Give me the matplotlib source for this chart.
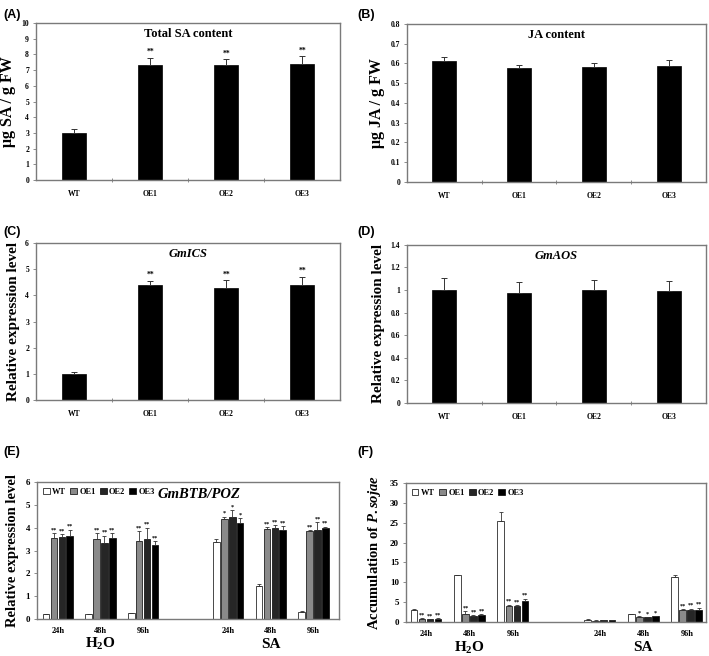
import numpy as np
import matplotlib
matplotlib.use("Agg")
from matplotlib import pyplot as plt
from matplotlib.ticker import FuncFormatter

plt.rcParams['font.family'] = 'Liberation Serif'
plt.rcParams['font.weight'] = 'bold'
plt.rcParams['mathtext.fontset'] = 'custom'
plt.rcParams['mathtext.rm'] = 'Liberation Serif:bold'
plt.rcParams['mathtext.bf'] = 'Liberation Serif:bold'
plt.rcParams['mathtext.it'] = 'Liberation Serif:bold:italic'

# ---- data ----
lines = ['WT', 'OE1', 'OE2', 'OE3']

sa_mean = [3.0, 7.35, 7.35, 7.4]
sa_err = [0.25, 0.45, 0.35, 0.5]
sa_sig = ['', '**', '**', '**']

ja_mean = [0.61, 0.578, 0.583, 0.587]
ja_err = [0.02, 0.015, 0.02, 0.03]

ics_mean = [1.0, 4.38, 4.3, 4.38]
ics_err = [0.08, 0.18, 0.27, 0.33]
ics_sig = ['', '**', '**', '**']

aos_mean = [1.0, 0.975, 1.0, 0.99]
aos_err = [0.11, 0.095, 0.09, 0.09]

times = ['24h', '48h', '96h', '24h', '48h', '96h']
treatments = ['H$_{2}$O', 'SA']

# GmBTB/POZ expression, rows = time points (H2O 24/48/96, SA 24/48/96), cols = WT, OE1, OE2, OE3
btb_mean = [[0.22, 3.53, 3.58, 3.63],
            [0.2, 3.5, 3.35, 3.57],
            [0.25, 3.43, 3.5, 3.25],
            [3.38, 4.4, 4.47, 4.2],
            [1.45, 3.93, 4.0, 3.9],
            [0.3, 3.87, 3.88, 3.97]]
btb_err = [[0.02, 0.22, 0.15, 0.28],
           [0.02, 0.27, 0.3, 0.2],
           [0.02, 0.42, 0.5, 0.15],
           [0.12, 0.08, 0.3, 0.22],
           [0.08, 0.1, 0.1, 0.18],
           [0.03, 0.03, 0.37, 0.08]]
btb_sig = [['', '**', '**', '**'],
           ['', '**', '**', '**'],
           ['', '**', '**', '**'],
           ['', '*', '*', '*'],
           ['', '**', '**', '**'],
           ['', '**', '**', '**']]

# P. sojae accumulation
ps_mean = [[3.0, 0.85, 0.7, 0.8],
           [11.8, 1.9, 1.6, 1.7],
           [25.4, 4.0, 4.1, 5.2],
           [0.6, 0.35, 0.4, 0.45],
           [2.0, 1.3, 1.2, 1.4],
           [11.3, 3.0, 3.1, 3.0]]
ps_err = [[0.2, 0.1, 0.1, 0.1],
          [0.05, 0.8, 0.2, 0.2],
          [2.3, 0.4, 0.2, 0.7],
          [0.05, 0.05, 0.05, 0.05],
          [0.1, 0.1, 0.1, 0.15],
          [0.5, 0.3, 0.3, 0.6]]
ps_sig = [['', '**', '**', '**'],
          ['', '**', '**', '**'],
          ['', '**', '**', '**'],
          ['', '', '', ''],
          ['', '*', '*', '*'],
          ['', '**', '**', '**']]

bar_colors = ['white', '#8a8a8a', '#262626', 'black']
spine_col = '#7a7a7a'

fig = plt.figure(figsize=(7.09, 6.56), dpi=100)


def style_axes(ax, tfs=5.5):
    for s in ax.spines.values():
        s.set_color(spine_col)
        s.set_linewidth(1.0)
    ax.tick_params(axis='y', labelsize=tfs, length=2, width=0.6, color=spine_col, pad=3)
    ax.yaxis.set_major_formatter(FuncFormatter(lambda v, p: '%g' % round(v, 2)))
    for t in ax.get_yticklabels():
        t.set_fontweight('bold')


def simple_panel(rect, mean, err, ymax, ystep, ylabel, title, title_italic, sig=None, ylfs=11):
    ax = fig.add_axes(rect)
    x = np.arange(len(lines))
    ax.bar(x, mean, width=0.32, color='black', edgecolor='black', linewidth=0.5,
           yerr=[np.zeros(len(err)), err], capsize=2.0,
           error_kw=dict(elinewidth=0.7, capthick=0.7, ecolor='#333333'))
    ax.set_xlim(-0.5, 3.5)
    ax.set_ylim(0, ymax)
    ax.set_yticks(np.arange(0, ymax + ystep / 2, ystep))
    ax.set_xticks([0.5, 1.5, 2.5])
    ax.set_xticklabels([])
    ax.tick_params(axis='x', direction='inout', length=3, width=0.6, color=spine_col)
    ax.set_xticks(x, minor=True)
    ax.set_xticklabels(lines, minor=True, fontsize=5.5, fontweight='bold')
    ax.tick_params(axis='x', which='minor', length=0, pad=7)
    style_axes(ax)
    ax.set_ylabel(ylabel, fontsize=ylfs, fontweight='bold', labelpad=4)
    ax.text(0.5, 0.93, title, transform=ax.transAxes, ha='center', va='center',
            fontsize=9, fontweight='bold', style='italic' if title_italic else 'normal')
    if sig is not None:
        for xi, m, e, s in zip(x, mean, err, sig):
            if s:
                ax.text(xi, m + e + ymax * 0.01, s, ha='center', va='bottom', fontsize=5.5,
                        fontweight='bold')
    return ax


def group_panel(rect, mean, err, sig, pos, xlim, ymax, ystep, ylabel, gene=None, gene_x=0.0):
    ax = fig.add_axes(rect)
    mean = np.array(mean)
    err = np.array(err)
    w = 0.155
    step = 0.185
    for j in range(len(lines)):
        xs = np.array(pos) + (j - 1.5) * step
        ax.bar(xs, mean[:, j], width=w, color=bar_colors[j], edgecolor='black', linewidth=0.5,
               yerr=[np.zeros(len(xs)), err[:, j]], capsize=1.2,
               error_kw=dict(elinewidth=0.6, capthick=0.6, ecolor='#333333'),
               label=lines[j])
        for xi, m, e, s in zip(xs, mean[:, j], err[:, j], [r[j] for r in sig]):
            if s:
                ax.text(xi, m + e + ymax * 0.005, s, ha='center', va='bottom', fontsize=4.5,
                        fontweight='bold')
    ax.set_xlim(*xlim)
    ax.set_ylim(0, ymax)
    ax.set_yticks(np.arange(0, ymax + ystep / 2, ystep))
    ax.set_xticks(pos)
    ax.set_xticklabels(times, fontsize=6, fontweight='bold')
    ax.tick_params(axis='x', length=0, pad=6)
    style_axes(ax, tfs=6.5)
    ax.set_ylabel(ylabel, fontsize=10.5, fontweight='bold', labelpad=5)
    ax.legend(loc='upper left', ncol=4, frameon=False, handlelength=0.8,
              handleheight=0.8, handletextpad=0.3, columnspacing=0.5,
              borderaxespad=0.3, prop=dict(weight='bold', size=6))
    if gene:
        ax.text(gene_x, 0.955, gene, transform=ax.transAxes, ha='left', va='top',
                fontsize=10.5, fontweight='bold', style='italic')
    # treatment labels under the groups
    for k, name in enumerate(treatments):
        cx = np.mean(pos[3 * k:3 * k + 3])
        ax.text(cx, -0.185, name, transform=ax.get_xaxis_transform(), ha='center', va='center',
                fontsize=11, fontweight='bold')
    return ax


simple_panel([0.0508, 0.7256, 0.429, 0.2393], sa_mean, sa_err, 10, 1,
             'μg SA / g FW', 'Total SA content', False, sa_sig, ylfs=11.5)
simple_panel([0.574, 0.7226, 0.4217, 0.241], ja_mean, ja_err, 0.8, 0.1,
             'μg JA / g FW', 'JA content', False, None, ylfs=11.5)
simple_panel([0.0508, 0.3902, 0.429, 0.2393], ics_mean, ics_err, 6, 1,
             'Relative expression level', 'GmICS', True, ics_sig, ylfs=11)
simple_panel([0.574, 0.3857, 0.4217, 0.241], aos_mean, aos_err, 1.4, 0.2,
             'Relative expression level', 'GmAOS', True, None, ylfs=11)

group_panel([0.0522, 0.0564, 0.426, 0.2088], btb_mean, btb_err, btb_sig,
            [0, 1, 2, 4, 5, 6], (-0.49, 6.6), 6, 1,
            'Relative expression level', 'GmBTB/POZ', 0.40)
group_panel([0.5726, 0.0518, 0.423, 0.212], ps_mean, ps_err, ps_sig,
            [0, 1, 2, 4, 5, 6], (-0.46, 6.44), 35, 5,
            r'Accumulation of $\mathit{P. sojae}$')

for lab, (px, py) in zip(['(A)', '(B)', '(C)', '(D)', '(E)', '(F)'],
                         [(3, 15), (357, 15), (3, 232), (357, 232), (3, 452), (357, 452)]):
    fig.text(px / 709, 1 - py / 656, lab, ha='left', va='center', fontsize=9,
             fontweight='bold', family='Liberation Sans')

fig.savefig('out.png', dpi=100)
